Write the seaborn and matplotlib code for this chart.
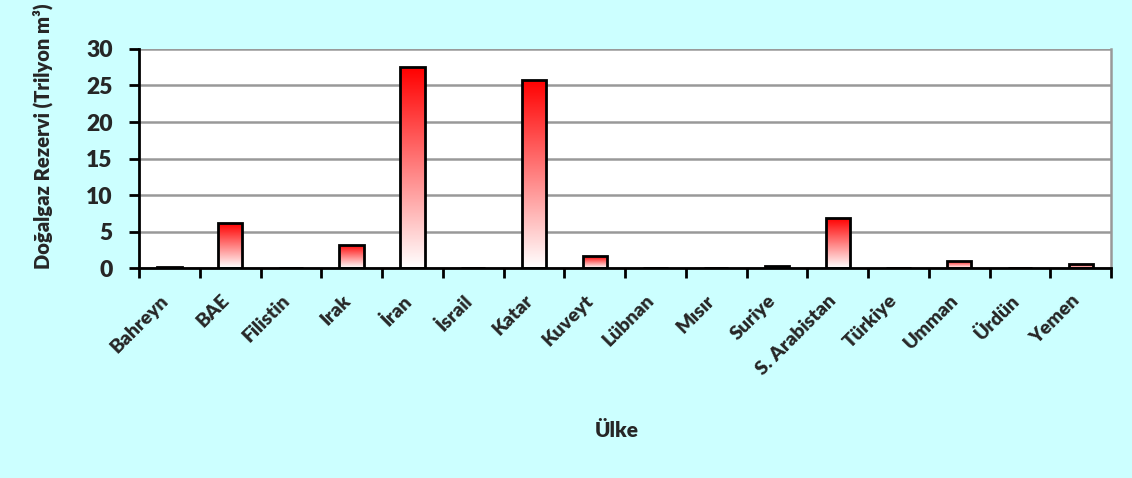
import numpy as np
import pandas as pd
import seaborn as sns
import matplotlib.pyplot as plt
from matplotlib.colors import LinearSegmentedColormap
from matplotlib.ticker import MultipleLocator, FixedLocator
from matplotlib.transforms import ScaledTranslation

countries = ["Bahreyn", "BAE", "Filistin", "Irak", "İran", "İsrail", "Katar", "Kuveyt",
             "Lübnan", "Mısır", "Suriye", "S. Arabistan", "Türkiye", "Umman", "Ürdün", "Yemen"]
reserves = [0.1, 6.1, 0.0, 3.2, 27.5, 0.0, 25.8, 1.6,
            0.0, 0.0, 0.3, 6.8, 0.0, 1.0, 0.0, 0.5]

df = pd.DataFrame({"Ülke": countries, "Rezerv": reserves})

sns.set_style("white")
plt.rcParams["font.family"] = ["Lato", "DejaVu Sans"]
W = "heavy"
plt.rcParams["font.weight"] = W

bg = "#CCFFFF"
fig = plt.figure(figsize=(11.32, 4.78), dpi=100, facecolor=bg)
ax = fig.add_axes([0.1228, 0.4393, 0.9815 - 0.1228, 0.8975 - 0.4393])
ax.set_facecolor("white")

sns.barplot(data=df, x="Ülke", y="Rezerv", order=countries, width=0.4,
            color="white", edgecolor="black", linewidth=2, ax=ax, zorder=3)

# red-to-white vertical gradient inside each bar
cmap = LinearSegmentedColormap.from_list("rw", ["white", "#FF0000"])
grad = np.linspace(0, 1, 256).reshape(-1, 1)
for p in ax.patches:
    h = p.get_height()
    if h <= 0:
        continue
    x0 = p.get_x()
    w = p.get_width()
    p.set_facecolor("none")
    im = ax.imshow(grad, cmap=cmap, origin="lower", aspect="auto",
                   extent=[x0, x0 + w, 0, h], zorder=2)
    im.set_clip_path(p)

ax.set_xlim(-0.5, len(countries) - 0.5)
ax.set_ylim(0, 30)
ax.yaxis.set_major_locator(MultipleLocator(5))
ax.yaxis.grid(True, color="#999999", linewidth=1.8, zorder=0)
ax.set_axisbelow(True)

for s in ["left", "bottom"]:
    ax.spines[s].set_color("black")
    ax.spines[s].set_linewidth(2)
ax.spines["right"].set_color("#999999")
ax.spines["right"].set_linewidth(1.8)
ax.spines["top"].set_visible(False)

# tick marks between categories
ax.xaxis.set_minor_locator(FixedLocator(np.arange(-0.5, len(countries), 1.0)))
ax.tick_params(axis="x", which="major", length=0, pad=17)
ax.tick_params(axis="x", which="minor", length=7, width=2, color="black", direction="out", bottom=True)
ax.tick_params(axis="y", which="major", length=7, width=2, color="black", direction="out", left=True,
               labelsize=16.5, pad=12)
shift = ScaledTranslation(-10 / 100, 0, fig.dpi_scale_trans)
for lab in ax.get_xticklabels():
    lab.set_rotation(45)
    lab.set_ha("right")
    lab.set_rotation_mode("anchor")
    lab.set_fontsize(14)
    lab.set_fontweight(W)
    lab.set_transform(lab.get_transform() + shift)
plt.setp(ax.get_yticklabels(), fontweight=W)

ax.set_xlabel("")
ax.set_ylabel("")
fig.text(0.545, 0.10, "Ülke", ha="center", va="center", fontsize=15, fontweight=W)
fig.text(0.038, 0.715, "Doğalgaz Rezervi (Trilyon m³)", rotation=90, ha="center", va="center",
         fontsize=14.5, fontweight=W)

fig.savefig("out.png", dpi=100, facecolor=bg)
